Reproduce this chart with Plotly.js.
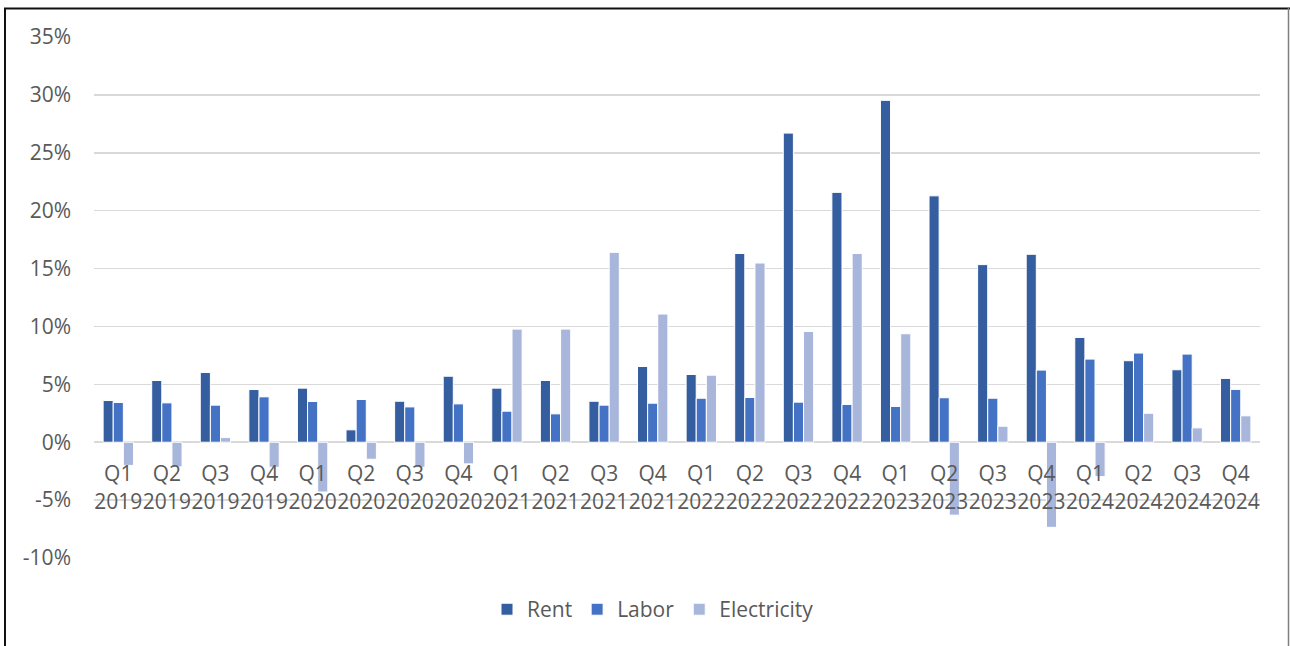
<!DOCTYPE html>
<html>
<head>
<meta charset="utf-8">
<script src="https://cdn.plot.ly/plotly-3.0.1.min.js"></script>
<style>
html,body{margin:0;padding:0;background:#fff;}
#chart{width:1290px;height:646px;}
</style>
</head>
<body>
<div id="chart"></div>
<script>
const quarters = ["Q1","Q2","Q3","Q4","Q1","Q2","Q3","Q4","Q1","Q2","Q3","Q4","Q1","Q2","Q3","Q4","Q1","Q2","Q3","Q4","Q1","Q2","Q3","Q4"];
const years = ["2019","2019","2019","2019","2020","2020","2020","2020","2021","2021","2021","2021","2022","2022","2022","2022","2023","2023","2023","2023","2024","2024","2024","2024"];
const rent = [3.6,5.33,6.02,4.55,4.67,1.07,3.54,5.7,4.67,5.33,3.54,6.54,5.85,16.3,26.7,21.58,29.53,21.28,15.34,16.23,9.05,7.04,6.26,5.51];
const labor = [3.43,3.4,3.2,3.92,3.52,3.69,3.05,3.31,2.68,2.45,3.2,3.37,3.8,3.86,3.46,3.26,3.09,3.84,3.8,6.23,7.18,7.7,7.61,4.56];
const electricity = [-2.0,-2.13,0.4,-2.16,-4.3,-1.47,-2.16,-1.87,9.77,9.77,16.4,11.07,5.79,15.48,9.57,16.3,9.37,-6.3,1.38,-7.35,-2.97,2.5,1.24,2.28];
const yTicks = [-10,-5,0,5,10,15,20,25,30,35];

const categories = quarters.map((q,i) => q + "<br>" + years[i]);
const pct = a => a.map(v => v/100);

const font = {family: "Open Sans, Liberation Sans, sans-serif", size: 21, color: "#595959"};
const mk = (name, vals, color) => ({
  type: "bar", name: name, x: categories, y: pct(vals),
  marker: {color: color, line: {color: "#ffffff", width: 1}},
  hoverinfo: "x+y"
});

const data = [
  mk("Rent", rent, "#355ea0"),
  mk("Labor", labor, "#4472c4"),
  mk("Electricity", electricity, "#a8b6dc")
];

const layout = {
  width: 1290, height: 646,
  margin: {l: 94, r: 30, t: 37, b: 88},
  paper_bgcolor: "#ffffff", plot_bgcolor: "#ffffff",
  font: font,
  barmode: "group",
  bargap: 0.375, bargroupgap: 0,
  showlegend: true,
  legend: {orientation: "h", x: 0.5 - 24/1166, xanchor: "center", y: -0.099, yanchor: "middle", font: font, itemwidth: 30},
  xaxis: {
    type: "category", anchor: "free", position: 10/45,
    showgrid: false, showline: false, zeroline: false,
    ticks: "", tickfont: font, ticklabelstandoff: 17, tickangle: 0
  },
  yaxis: {
    range: [-0.10, 0.35], tickvals: yTicks.map(v => v/100), ticktext: yTicks.map(v => v + "%"),
    showgrid: true, gridcolor: "#d9d9d9", gridwidth: 1.5,
    zeroline: true, zerolinecolor: "#d9d9d9", zerolinewidth: 1.5,
    showline: false, ticks: "", tickfont: font, ticklabelstandoff: 22
  },
  shapes: [
    {type: "line", xref: "paper", yref: "paper", x0: (5-94)/1166, x1: (5-94)/1166, y0: (558-8)/521, y1: (558-650)/521, line: {color: "#111111", width: 2}},
    {type: "line", xref: "paper", yref: "paper", x0: (4-94)/1166, x1: (1290-94)/1166, y0: (558-8.5)/521, y1: (558-8.5)/521, line: {color: "#111111", width: 2}},
    {type: "line", xref: "paper", yref: "paper", x0: (1288.5-94)/1166, x1: (1288.5-94)/1166, y0: (558-8)/521, y1: (558-650)/521, line: {color: "#7f7f7f", width: 1.5}}
  ]
};

Plotly.newPlot("chart", data, layout, {displayModeBar: false, staticPlot: true});
</script>
</body>
</html>
